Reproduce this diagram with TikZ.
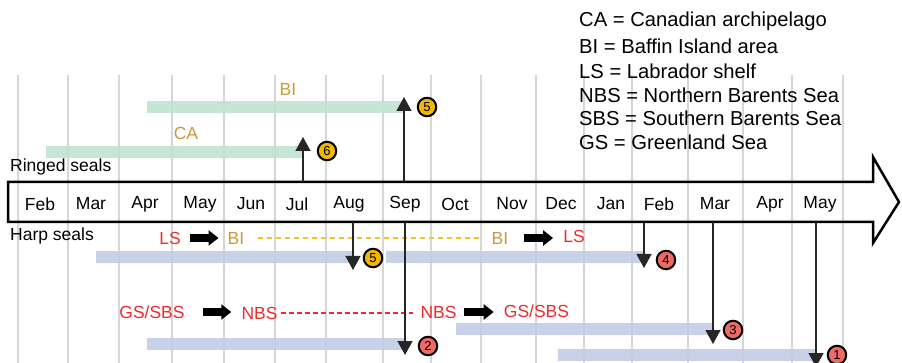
\documentclass[tikz,border=0pt]{standalone}
\usepackage{fontspec}
\setmainfont{Liberation Sans}
\usetikzlibrary{arrows.meta}
\definecolor{gridc}{HTML}{D6D6D6}
\definecolor{ringc}{HTML}{BFE3CF}
\definecolor{harpc}{HTML}{C3CCE6}
\definecolor{goldc}{HTML}{C99A3B}
\definecolor{redc}{HTML}{EE2B2B}
\definecolor{yelc}{HTML}{F2B705}
\definecolor{pinkc}{HTML}{EE6A66}
\definecolor{dashy}{HTML}{F4C430}
\tikzset{
  gridline/.style={gridc, line width=1.5pt},
  bigarrow/.style={draw=black, line width=2.5pt, line join=miter},
  month/.style={font=\fontsize{17.5}{20}\selectfont, inner sep=0pt},
  lbl/.style={font=\fontsize{17.5}{20}\selectfont, inner sep=0pt},
  redl/.style={lbl, text=redc},
  goldl/.style={lbl, text=goldc},
  legend/.style={font=\fontsize{20.2}{22}\selectfont, inner sep=0pt, anchor=west},
  ringbar/.style={fill=ringc, opacity=0.9, inner sep=0pt, anchor=north west, minimum height=12pt},
  harpbar/.style={fill=harpc, opacity=0.9, inner sep=0pt, anchor=north west, minimum height=12pt},
  numc/.style={circle, draw=black, line width=2pt, inner sep=0pt, minimum size=18.5pt, font=\fontsize{13}{13}\selectfont},
  vline/.style={black!85, line width=1.3pt, -{Triangle[length=14pt,width=15pt]}},
  fat/.style={black, line width=8pt, -{Triangle[length=10pt,width=15pt]}},
  ydash/.style={dashy, line width=1.2pt, dash pattern=on 5pt off 4pt},
  rdash/.style={redc, line width=1.2pt, dash pattern=on 5pt off 3pt},
}
\begin{document}
\begin{tikzpicture}[x=1pt,y=-1pt]
\useasboundingbox (0,0) rectangle (902,363);
% grid
\foreach \gx in {18,68,119,172,224,275,326,383,431,481,536,584,632,688,743,792,843}
  \draw[gridline] (\gx,75) -- (\gx,363);
% legend
\node[legend] (leg1) at (579,21) {CA = Canadian archipelago};
\node[legend] (leg2) at (579,46) {BI = Baffin Island area};
\node[legend] (leg3) at (579,71) {LS = Labrador shelf};
\node[legend] (leg4) at (579,95) {NBS = Northern Barents Sea};
\node[legend] (leg5) at (579,118) {SBS = Southern Barents Sea};
\node[legend] (leg6) at (579,142) {GS = Greenland Sea};
% big arrow
\draw[bigarrow] (8,182) -- (873,182) -- (873,157) -- (899,202) -- (873,243) -- (873,222) -- (8,222) -- cycle;
\foreach \m/\mx [count=\i] in {Feb/40,Mar/91,Apr/145,May/200,Jun/251,Jul/297,Aug/349,Sep/405,Oct/455,Nov/512,Dec/561,Jan/611,Feb/659,Mar/715,Apr/770,May/820}
  \node[month] (m\i) at (\mx,204) {\m};
% ringed seals
\node[lbl, anchor=west] (ringed) at (10,167) {Ringed seals};
\node[ringbar, minimum width=258pt] (rbBI) at (147,101) {};
\node[ringbar, minimum width=256pt] (rbCA) at (46,146) {};
\node[goldl] (tBI) at (288,89) {BI};
\node[goldl] (tCA) at (186,133) {CA};
\coordinate (r6s) at (303,182);
\coordinate (r6e) at (303,137);
\coordinate (r5s) at (404,182);
\coordinate (r5e) at (404,97);
\draw[vline] (r6s) -- (r6e);
\draw[vline] (r5s) -- (r5e);
\node[numc, fill=yelc] (c6) at (327,151) {6};
\node[numc, fill=yelc] (c5r) at (427,107) {5};
% harp seals
\node[lbl, anchor=west] (harp) at (10,236) {Harp seals};
\node[harpbar, minimum width=256pt] (hb1) at (96,251) {};
\node[harpbar, minimum width=258pt] (hb2) at (386,251) {};
\node[harpbar, minimum width=258pt] (hb3) at (147,338) {};
\node[harpbar, minimum width=257pt] (hb4) at (456,323) {};
\node[harpbar, minimum width=258pt] (hb5) at (558,349) {};
% row 1 labels
\node[redl] (ls1) at (170,238) {LS};
\node[goldl] (bi1) at (236,238) {BI};
\node[goldl] (bi2) at (500,238) {BI};
\node[redl] (ls2) at (574,236) {LS};
\draw[fat, shorten <=8.6pt, shorten >=9pt] (ls1.east) -- (bi1.west);
\draw[ydash, shorten <=14pt, shorten >=9pt] (bi1.east) -- (bi2.west);
\draw[fat, shorten <=16pt, shorten >=10pt] (bi2.east) -- (ls2.west |- bi2.east);
% row 2 labels
\node[redl] (gs1) at (152,312) {GS/SBS};
\node[redl] (nbs1) at (259.5,313) {NBS};
\node[redl] (nbs2) at (438.5,312) {NBS};
\node[redl] (gs2) at (536.5,311) {GS/SBS};
\draw[fat, shorten <=18pt, shorten >=10pt] (gs1.east) -- (nbs1.west |- gs1.east);
\draw[rdash, shorten <=3pt, shorten >=7pt] (nbs1.east) -- (nbs2.west |- nbs1.east);
\draw[fat, shorten <=7pt, shorten >=10pt] (nbs2.east) -- (gs2.west |- nbs2.east);
% harp arrows
\coordinate (h5s) at (353,222); \coordinate (h5e) at (353,270);
\coordinate (h4s) at (644,222); \coordinate (h4e) at (644,268);
\coordinate (h2s) at (405,222); \coordinate (h2e) at (405,355);
\coordinate (h3s) at (713,222); \coordinate (h3e) at (713,344);
\coordinate (h1s) at (816,222); \coordinate (h1e) at (816,367);
\draw[vline] (h5s) -- (h5e);
\draw[vline] (h4s) -- (h4e);
\draw[vline] (h2s) -- (h2e);
\draw[vline] (h3s) -- (h3e);
\draw[vline] (h1s) -- (h1e);
\node[numc, fill=yelc] (c5h) at (373,258) {5};
\node[numc, fill=pinkc] (c4) at (666,260) {4};
\node[numc, fill=pinkc] (c2) at (428,346) {2};
\node[numc, fill=pinkc] (c3) at (733,330) {3};
\node[numc, fill=pinkc] (c1) at (837,355) {1};
\end{tikzpicture}
\end{document}
